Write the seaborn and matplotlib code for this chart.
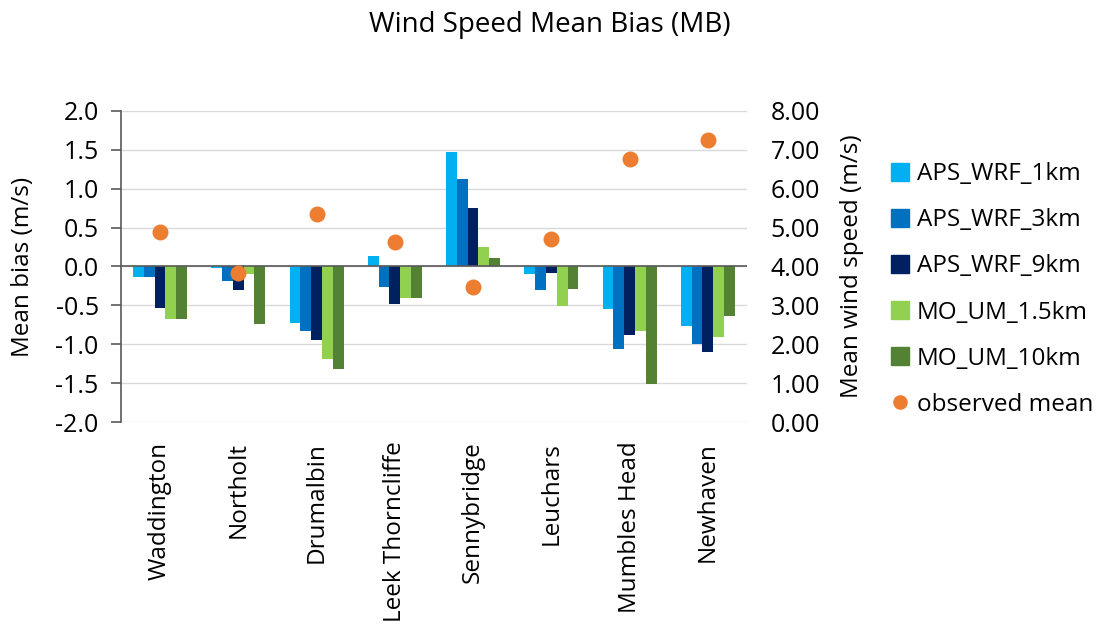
import matplotlib
matplotlib.use("Agg")
import matplotlib.pyplot as plt
from matplotlib.lines import Line2D
from matplotlib.ticker import FormatStrFormatter
import numpy as np
import pandas as pd
import seaborn as sns

sites = ["Waddington", "Northolt", "Drumalbin", "Leek Thorncliffe",
         "Sennybridge", "Leuchars", "Mumbles Head", "Newhaven"]
models = ["APS_WRF_1km", "APS_WRF_3km", "APS_WRF_9km", "MO_UM_1.5km", "MO_UM_10km"]

aps_wrf_1km = [-0.14, -0.02, -0.72, 0.14, 1.47, -0.10, -0.55, -0.77]
aps_wrf_3km = [-0.14, -0.18, -0.83, -0.26, 1.12, -0.30, -1.06, -1.00]
aps_wrf_9km = [-0.53, -0.30, -0.94, -0.48, 0.75, -0.09, -0.88, -1.10]
mo_um_1_5km = [-0.67, -0.10, -1.19, -0.41, 0.25, -0.51, -0.83, -0.90]
mo_um_10km = [-0.68, -0.74, -1.32, -0.41, 0.11, -0.29, -1.51, -0.63]
observed_mean = [4.88, 3.82, 5.36, 4.64, 3.48, 4.71, 6.75, 7.25]

colors = ["#00B0F0", "#0070C0", "#002060", "#92D050", "#548235"]
dot_color = "#ED7D31"

sns.set_style("white")
plt.rcParams["font.family"] = ["Open Sans", "DejaVu Sans"]
text_color = "#000000"

series = [aps_wrf_1km, aps_wrf_3km, aps_wrf_9km, mo_um_1_5km, mo_um_10km]
bias_df = pd.DataFrame({
    "site": sites * len(models),
    "model": np.repeat(models, len(sites)),
    "bias": np.concatenate(series),
})
obs_df = pd.DataFrame({"site": sites, "obs": observed_mean})

fig = plt.figure(figsize=(11.09, 6.26), dpi=100)
ax = fig.add_axes([0.109, 0.3254, 0.5646, 0.4978])

# grouped bars: mean bias per site and model
sns.barplot(data=bias_df, x="site", y="bias", hue="model", order=sites,
            hue_order=models, palette=colors, width=0.69, gap=0,
            saturation=1, errorbar=None, legend=False, linewidth=0,
            ax=ax, zorder=3)

ax.set_ylim(-2, 2)
ax.set_yticks(np.arange(-2, 2.01, 0.5))
ax.yaxis.set_major_formatter(FormatStrFormatter("%.1f"))
ax.set_xlim(-0.5, len(sites) - 0.5)
ax.grid(axis="y", color="#D9D9D9", lw=1, zorder=0)
ax.set_axisbelow(True)
ax.axhline(0, color="#595959", lw=1.2, zorder=4)
for s in ["top", "right", "bottom"]:
    ax.spines[s].set_visible(False)
ax.spines["left"].set_color("#595959")
ax.spines["left"].set_linewidth(1.2)
ax.tick_params(axis="y", direction="out", length=7, width=1.2,
               color="#595959", labelsize=18, labelcolor=text_color, pad=9)
ax.tick_params(axis="x", length=0, labelsize=17.5, labelcolor=text_color,
               labelrotation=90, pad=14)
for lbl in ax.get_xticklabels():
    lbl.set_va("top")
ax.set_xlabel("")
ax.set_ylabel("Mean bias (m/s)", fontsize=17.5, color=text_color)
ax.yaxis.set_label_coords(-0.137, 0.5)

# observed mean wind speed on the secondary axis
ax2 = ax.twinx()
sns.stripplot(data=obs_df, x="site", y="obs", order=sites, jitter=False,
              color=dot_color, size=11.5, linewidth=0, ax=ax2, zorder=5)
ax2.set_ylim(0, 8)
ax2.set_yticks(np.arange(0, 8.01, 1))
ax2.yaxis.set_major_formatter(FormatStrFormatter("%.2f"))
ax2.set_xlim(-0.5, len(sites) - 0.5)
for s in ax2.spines.values():
    s.set_visible(False)
ax2.tick_params(axis="y", length=0, labelsize=18, labelcolor=text_color, pad=17)
ax2.set_ylabel("Mean wind speed (m/s)", fontsize=17.5, color=text_color)
ax2.yaxis.set_label_coords(1.1486, 0.5)
ax2.set_xlabel("")

fig.text(0.496, 0.960, "Wind Speed Mean Bias (MB)", ha="center", va="center",
         fontsize=20, color=text_color)

handles = [Line2D([], [], marker="s", ls="", markersize=13, color=c) for c in colors]
handles.append(Line2D([], [], marker="o", ls="", markersize=9.5, color=dot_color))
fig.legend(handles, models + ["observed mean"], loc="upper left",
           bbox_to_anchor=(0.7935, 0.7565), frameon=False, fontsize=17.5,
           handlelength=0.85, handletextpad=0.27, labelspacing=0.91,
           borderaxespad=0, labelcolor=text_color)

fig.savefig("out.png", dpi=100)
